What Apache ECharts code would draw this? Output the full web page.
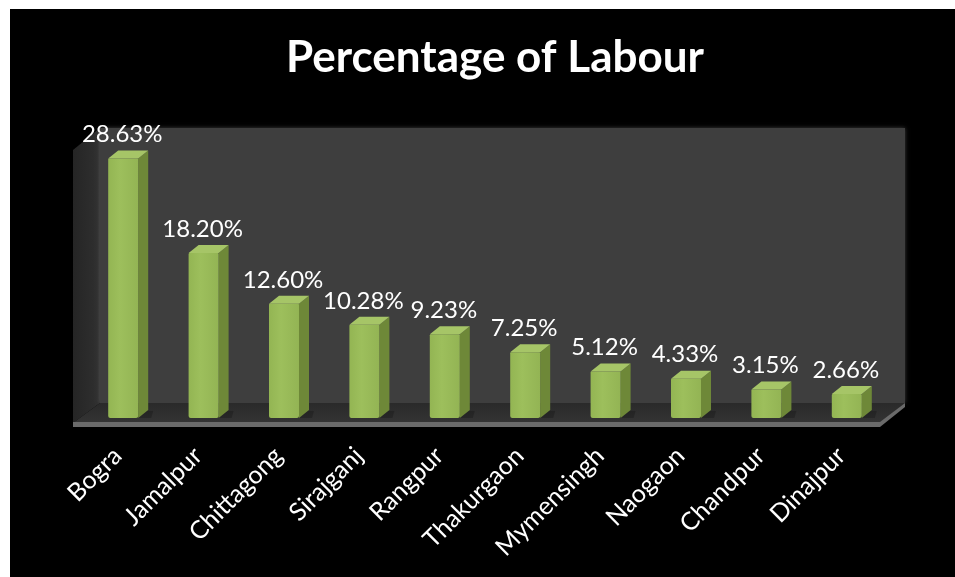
<!DOCTYPE html>
<html>
<head>
<meta charset="utf-8">
<script src="https://cdn.jsdelivr.net/npm/echarts@6/dist/echarts.min.js"></script>
<style>
html,body{margin:0;padding:0;background:#fff;}
#chart{width:955px;height:577px;}
</style>
</head>
<body>
<div id="chart"></div>
<script>
const categories = ['Bogra','Jamalpur','Chittagong','Sirajganj','Rangpur','Thakurgaon','Mymensingh','Naogaon','Chandpur','Dinajpur'];
const percentages = [28.63, 18.20, 12.60, 10.28, 9.23, 7.25, 5.12, 4.33, 3.15, 2.66];
const titleText = 'Percentage of Labour';

const FONT = 'Lato, "Open Sans", sans-serif';
const chart = echarts.init(document.getElementById('chart'), null, {renderer:'canvas'});

function renderBar(params, api){
  const top = api.coord([api.value(0), api.value(1)]);
  const base = api.coord([api.value(0), 0]);
  const w = 30, dx = 10, dy = 8;
  const cx = top[0], ty = top[1], by = base[1];
  return {
    type:'group',
    children:[
      {type:'polygon', shape:{points:[[cx-w/2,by],[cx+w/2+dx+3,by],[cx+w/2+dx+5,by-dy+1],[cx-w/2+dx,by-dy]]},
        style:{fill:'rgba(0,0,0,0.2)'}},
      {type:'polygon', shape:{points:[[cx+w/2,ty],[cx+w/2+dx,ty-dy],[cx+w/2+dx,by-dy],[cx+w/2,by]]},
        style:{fill:'#6e8838'}},
      {type:'rect', shape:{x:cx-w/2, y:ty, width:w, height:by-ty, r:[1,1,2,2]},
        style:{fill:new echarts.graphic.LinearGradient(0,0,1,0,[
          {offset:0,color:'#93b553'},{offset:0.4,color:'#9dbf5c'},{offset:1,color:'#93b454'}])}},
      {type:'polygon', shape:{points:[[cx-w/2,ty],[cx+w/2,ty],[cx+w/2+dx,ty-dy],[cx-w/2+dx,ty-dy]]},
        style:{fill:'#a6c567'}},
      {type:'text', x:cx-1, y:ty-12,
        style:{text:api.value(1).toFixed(2)+'%', fill:'#ffffff', font:'24px '+FONT,
          textAlign:'center', textVerticalAlign:'bottom'}}
    ]
  };
}

const option = {
  backgroundColor:'#ffffff',
  animation:false,
  title:{
    text:titleText, left:490, top:31, textAlign:'center',
    textStyle:{color:'#ffffff', fontSize:44, fontWeight:'bold', fontFamily:FONT}
  },
  grid:{left:83, right:68, top:128, bottom:159, containLabel:false},
  xAxis:{
    type:'category', data:categories,
    axisLine:{show:false}, axisTick:{show:false}, splitLine:{show:false},
    axisLabel:{rotate:45, margin:28, color:'#ffffff', fontSize:25, fontFamily:FONT,
      padding:[0,8,0,0], interval:0}
  },
  yAxis:{type:'value', min:0, max:32, show:false},
  graphic:{elements:[
    {type:'rect', z:-10, shape:{x:10,y:9,width:945,height:568}, style:{fill:'#000'}},
    {type:'polygon', z:-9, shape:{points:[[73,150],[100,128],[100,403],[73,423]]},
      style:{fill:new echarts.graphic.LinearGradient(0,0,1,0,[{offset:0,color:'#252525'},{offset:1,color:'#303030'}])}},
    {type:'rect', z:-9, shape:{x:100,y:128,width:805,height:275},
      style:{fill:'#3e3e3e', shadowBlur:4, shadowColor:'rgba(120,120,120,0.5)'}},
    {type:'polygon', z:-8, shape:{points:[[73,423],[100,403],[905,403],[880,423]]},
      style:{fill:new echarts.graphic.LinearGradient(0,0,0,1,[{offset:0,color:'#2a2a2a'},{offset:1,color:'#343434'}])}},
    {type:'polygon', z:-8, shape:{points:[[73,422],[880,422],[905,403],[905,407],[880,427],[73,427]]},
      style:{fill:'#6a6a6a'}}
  ]},
  series:[{
    type:'custom', z:10,
    renderItem:renderBar,
    encode:{x:0, y:1},
    data:categories.map((c,i)=>[i, percentages[i]])
  }]
};
chart.setOption(option);
</script>
</body>
</html>
